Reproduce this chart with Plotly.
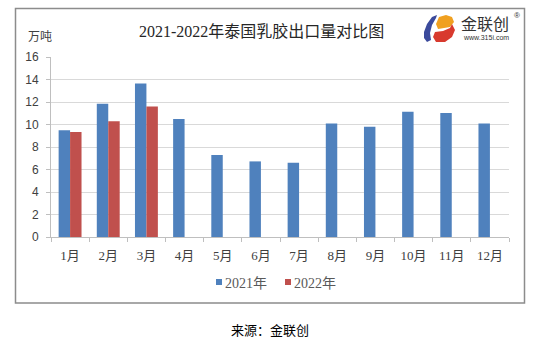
import plotly.graph_objects as go

months = ["1月", "2月", "3月", "4月", "5月", "6月", "7月", "8月", "9月", "10月", "11月", "12月"]
exports_2021 = [9.48, 11.85, 13.65, 10.49, 7.29, 6.72, 6.6, 10.1, 9.8, 11.14, 11.02, 10.1]
exports_2022 = [9.33, 10.28, 11.6, None, None, None, None, None, None, None, None, None]
y_ticks = [0, 2, 4, 6, 8, 10, 12, 14, 16]
series_names = ["2021年", "2022年"]
series_colors = ["#4F81BD", "#C0504D"]

W, H = 541, 349
L, R, T, B = 51, 509, 57, 237  # plot area in pixels


def px(x):
    return (x - L) / (R - L)


def py(y):
    return (B - y) / (B - T)


fig = go.Figure()
for name, vals, color in zip(series_names, [exports_2021, exports_2022], series_colors):
    fig.add_trace(go.Bar(name=name, x=months, y=vals, marker_color=color,
                         marker_line_width=0, showlegend=False))

serif = "Liberation Serif, Noto Sans CJK SC, serif"
sans = "Liberation Sans, Noto Sans CJK SC, sans-serif"

fig.update_layout(
    width=W, height=H,
    margin=dict(l=L, r=W - R, t=T, b=H - B, pad=0),
    paper_bgcolor="white", plot_bgcolor="white",
    barmode="group", bargap=0.4, bargroupgap=0,
    font=dict(family=sans, size=11, color="#595959"),
)

fig.update_xaxes(
    type="category", tickson="boundaries", ticks="outside", ticklen=4,
    tickcolor="#BFBFBF", showline=True, linecolor="#BFBFBF", linewidth=1,
    showgrid=False, tickfont=dict(family=serif, size=13, color="#404040"),
    ticklabelstandoff=6, range=[-0.5, 11.5],
)
fig.update_yaxes(
    range=[0, 16], tickvals=y_ticks, ticks="outside", ticklen=4,
    tickcolor="#BFBFBF", showline=True, linecolor="#BFBFBF", linewidth=1,
    showgrid=True, gridcolor="#D9D9D9", gridwidth=1, zeroline=False,
    tickfont=dict(family=sans, size=12, color="#404040"), ticklabelstandoff=5,
)

# outer frame
fig.add_shape(type="rect", xref="paper", yref="paper",
              x0=px(15.5), x1=px(524.5), y0=py(303), y1=py(8.5),
              line=dict(color="#8C8C8C", width=1.5), fillcolor="rgba(0,0,0,0)", layer="below")

# legend entries: small colored square followed by the series name
for name, color, xs in zip(series_names, series_colors, [216, 285]):
    fig.add_shape(type="rect", xref="paper", yref="paper",
                  x0=px(xs), x1=px(xs + 6), y0=py(285), y1=py(279),
                  fillcolor=color, line_width=0)
    fig.add_annotation(text=name, xref="paper", yref="paper",
                       x=px(xs + 7), y=py(283), xanchor="left", yanchor="middle",
                       showarrow=False,
                       font=dict(family=serif, size=14, color="#595959"))

# title and unit
fig.add_annotation(text="2021-2022年泰国乳胶出口量对比图", xref="paper", yref="paper",
                   x=px(261), y=py(31), xanchor="center", yanchor="middle", showarrow=False,
                   font=dict(family=serif, size=16, color="#262626"))
fig.add_annotation(text="万吨", xref="paper", yref="paper",
                   x=px(40), y=py(37), xanchor="center", yanchor="middle", showarrow=False,
                   font=dict(family=serif, size=12, color="#404040"))


# brand mark
def path(points):
    return "M " + " L ".join(f"{px(x)},{py(y)}" for x, y in points) + " Z"


fig.add_shape(type="path", xref="paper", yref="paper",
              path=path([(437, 15), (432, 17), (427, 24), (424, 32), (424, 38), (427, 42),
                         (431, 40), (430, 33), (432, 25), (436, 18)]),
              fillcolor="#3B4A9C", line_width=0)
fig.add_shape(type="path", xref="paper", yref="paper",
              path=path([(439, 17), (446, 15), (452, 17), (454, 22), (450, 27), (444, 28),
                         (438, 29), (436, 24)]),
              fillcolor="#F0A020", line_width=0)
fig.add_shape(type="path", xref="paper", yref="paper",
              path=path([(452, 24), (455, 30), (452, 37), (445, 42), (436, 42), (433, 37),
                         (435, 32), (443, 31), (450, 28)]),
              fillcolor="#D83A2E", line_width=0)
fig.add_annotation(text="金联创", xref="paper", yref="paper",
                   x=px(485), y=py(25), xanchor="center", yanchor="middle", showarrow=False,
                   font=dict(family=sans, size=16, color="#333333"))
fig.add_annotation(text="www.315i.com", xref="paper", yref="paper",
                   x=px(486), y=py(38), xanchor="center", yanchor="middle", showarrow=False,
                   font=dict(family=sans, size=7, color="#333333"))
fig.add_annotation(text="®", xref="paper", yref="paper",
                   x=px(517), y=py(16), xanchor="center", yanchor="middle", showarrow=False,
                   font=dict(family=sans, size=8, color="#333333"))

# source note
fig.add_annotation(text="来源：金联创", xref="paper", yref="paper",
                   x=px(270), y=py(330), xanchor="center", yanchor="middle", showarrow=False,
                   font=dict(family=sans, size=13, color="#000000"))

fig.write_html("out.html")
